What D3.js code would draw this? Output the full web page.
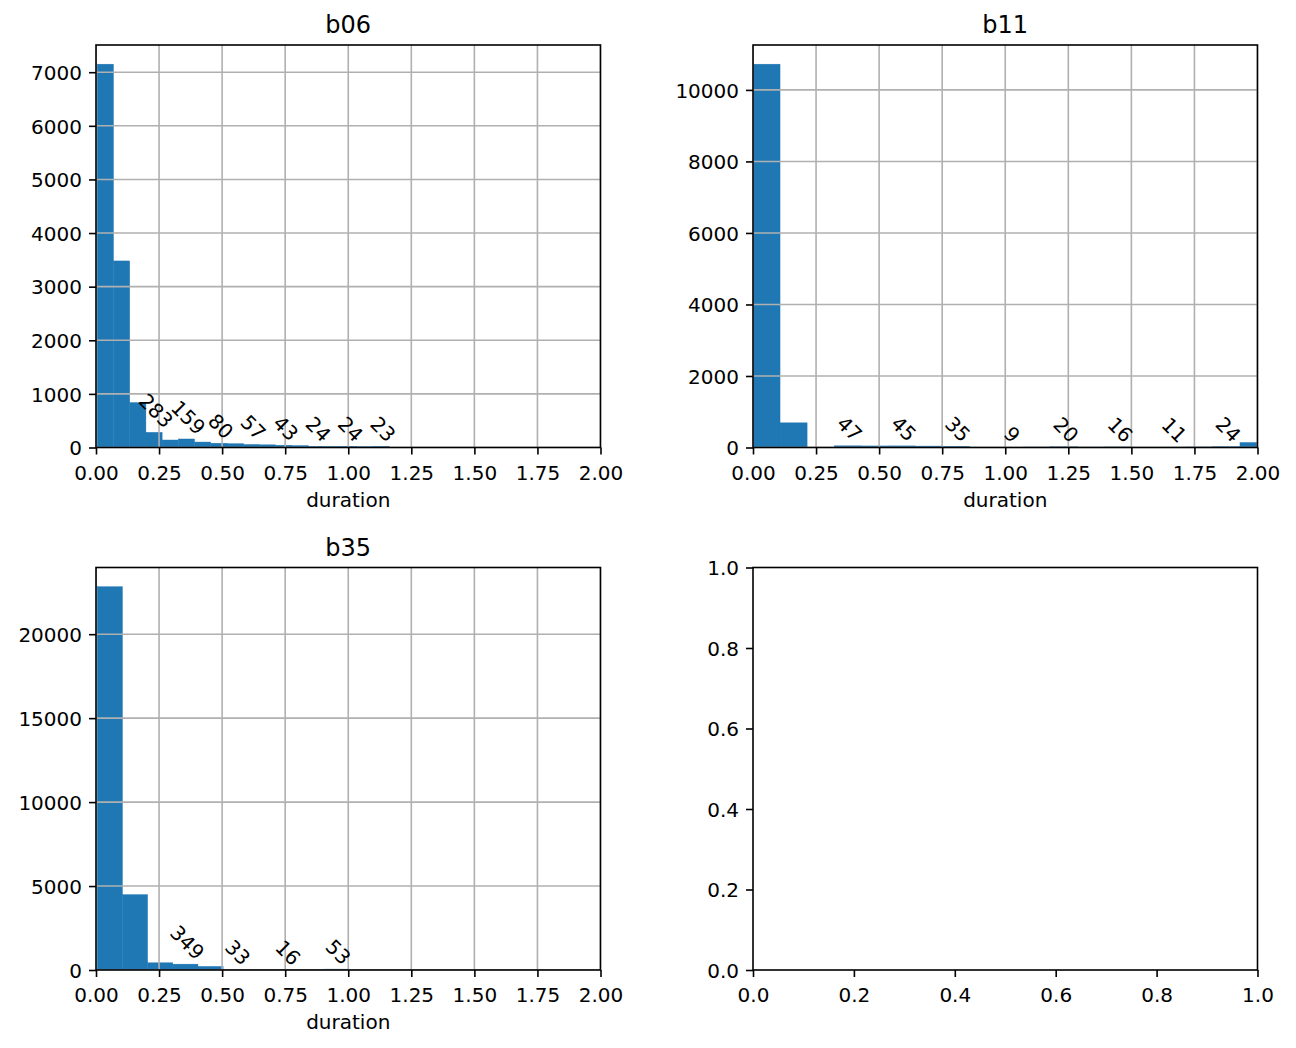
<!DOCTYPE html>
<html><head><meta charset="utf-8">
<script src="https://cdn.jsdelivr.net/npm/d3@7"></script>
<style>body{margin:0;background:#fff} text{font-family:"DejaVu Sans",sans-serif;fill:#000}</style>
</head><body><svg id="c" width="1296" height="1048"></svg>
<script>
// ---- data ----
const titles = ["b06", "b11", "b35"];
const b06Counts = [7150, 3480, 838, 283, 140, 159, 102, 80, 72, 57, 50, 43, 36, 24, 22, 24, 18, 23];
const b11Counts = [10720, 690, 0, 47, 44, 45, 40, 35, 10, 9, 14, 20, 13, 16, 10, 11, 15, 24, 140];
const b35Counts = [22830, 4490, 430, 349, 215, 33, 25, 16, 20, 53];
const b06BinStart = 0.005, b06BinWidth = 0.0643;
const b11BinStart = 0.0, b11BinWidth = 0.10725;
const b35BinStart = 0.005, b35BinWidth = 0.0998;
const b06Labeled = [3, 5, 7, 9, 11, 13, 15, 17];
const b11Labeled = [3, 5, 7, 9, 11, 13, 15, 17];
const b35Labeled = [3, 5, 7, 9];
const xTicks = [0, 0.25, 0.5, 0.75, 1.0, 1.25, 1.5, 1.75, 2.0];
const b06YTicks = [0, 1000, 2000, 3000, 4000, 5000, 6000, 7000];
const b11YTicks = [0, 2000, 4000, 6000, 8000, 10000];
const b35YTicks = [0, 5000, 10000, 15000, 20000];
const emptyTicks = [0, 0.2, 0.4, 0.6, 0.8, 1.0];
const xLabel = "duration";

const panels = [
  {title: titles[0], counts: b06Counts, start: b06BinStart, width: b06BinWidth, labeled: b06Labeled, yTicks: b06YTicks, col: 0, row: 0},
  {title: titles[1], counts: b11Counts, start: b11BinStart, width: b11BinWidth, labeled: b11Labeled, yTicks: b11YTicks, col: 1, row: 0},
  {title: titles[2], counts: b35Counts, start: b35BinStart, width: b35BinWidth, labeled: b35Labeled, yTicks: b35YTicks, col: 0, row: 1}
];

// ---- layout ----
const colX = [96, 753], colW = 504.5;
const rowY = [45, 567.5], rowH = 402.5;
const svg = d3.select("#c");
const LW = 1.6, TICK = 7, BAR = "#1f77b4", GRID = "#b0b0b0";

function drawAxes(g, x, y, xt, yt, xfmt, yfmt) {
  const h = rowH;
  const ax = g.append("g").attr("transform", `translate(0,${h})`)
    .call(d3.axisBottom(x).tickValues(xt).tickFormat(xfmt).tickSize(TICK).tickSizeOuter(0));
  ax.select(".domain").remove();
  ax.selectAll("line").attr("stroke", "#000").attr("stroke-width", LW);
  ax.selectAll("text").attr("y", 32).attr("dy", null).style("font-size", "20px").attr("fill", "#000");
  const ay = g.append("g")
    .call(d3.axisLeft(y).tickValues(yt).tickFormat(yfmt).tickSize(TICK).tickSizeOuter(0));
  ay.select(".domain").remove();
  ay.selectAll("line").attr("stroke", "#000").attr("stroke-width", LW);
  ay.selectAll("text").attr("x", -14).attr("dy", "0.36em").style("font-size", "20px").attr("fill", "#000");
}

panels.forEach((p, i) => {
  const g = svg.append("g").attr("transform", `translate(${colX[p.col]},${rowY[p.row]})`);
  const ymax = d3.max(p.counts) * 1.05;
  const x = d3.scaleLinear().domain([0, 2]).range([0, colW]);
  const y = d3.scaleLinear().domain([0, ymax]).range([rowH, 0]);
  const cid = "clip" + i;
  g.append("clipPath").attr("id", cid).append("rect").attr("width", colW).attr("height", rowH);
  const plot = g.append("g").attr("clip-path", `url(#${cid})`);
  plot.selectAll("rect.bar").data(p.counts).join("rect").attr("class", "bar")
    .attr("x", (d, k) => x(p.start + k * p.width))
    .attr("width", (d, k) => x(p.start + (k + 1) * p.width) - x(p.start + k * p.width))
    .attr("y", d => y(d)).attr("height", d => rowH - y(d))
    .attr("fill", BAR).attr("stroke", d => d > 0 ? BAR : "none").attr("stroke-width", 0.4);
  // grid
  plot.selectAll("line.gx").data(xTicks).join("line").attr("class", "gx")
    .attr("x1", d => x(d)).attr("x2", d => x(d)).attr("y1", 0).attr("y2", rowH)
    .attr("stroke", GRID).attr("stroke-width", LW);
  plot.selectAll("line.gy").data(p.yTicks).join("line").attr("class", "gy")
    .attr("x1", 0).attr("x2", colW).attr("y1", d => y(d)).attr("y2", d => y(d))
    .attr("stroke", GRID).attr("stroke-width", LW);
  // annotations
  p.labeled.forEach(k => {
    const c = p.counts[k];
    const t = g.append("text").text(c).style("font-size", "20px")
      .attr("text-anchor", "middle").attr("dy", "0.36em");
    const len = t.node().getComputedTextLength();
    const half = (len + 14.6) * 0.3536;
    const cx = x(p.start + (k + 0.5) * p.width) + 2;
    const cy = y(c) - 3 - half;
    t.attr("transform", `translate(${cx},${cy}) rotate(45)`);
  });
  // frame
  g.append("rect").attr("width", colW).attr("height", rowH).attr("fill", "none")
    .attr("stroke", "#000").attr("stroke-width", LW);
  drawAxes(g, x, y, xTicks, p.yTicks, d3.format(".2f"), d3.format("d"));
  g.append("text").attr("x", colW / 2).attr("y", -12).attr("text-anchor", "middle")
    .style("font-size", "24px").text(p.title);
  g.append("text").attr("x", colW / 2).attr("y", rowH + 59).attr("text-anchor", "middle")
    .style("font-size", "20px").text(xLabel);
});

// empty panel
{
  const g = svg.append("g").attr("transform", `translate(${colX[1]},${rowY[1]})`);
  const x = d3.scaleLinear().domain([0, 1]).range([0, colW]);
  const y = d3.scaleLinear().domain([0, 1]).range([rowH, 0]);
  g.append("rect").attr("width", colW).attr("height", rowH).attr("fill", "none")
    .attr("stroke", "#000").attr("stroke-width", LW);
  drawAxes(g, x, y, emptyTicks, emptyTicks, d3.format(".1f"), d3.format(".1f"));
}
</script></body></html>
